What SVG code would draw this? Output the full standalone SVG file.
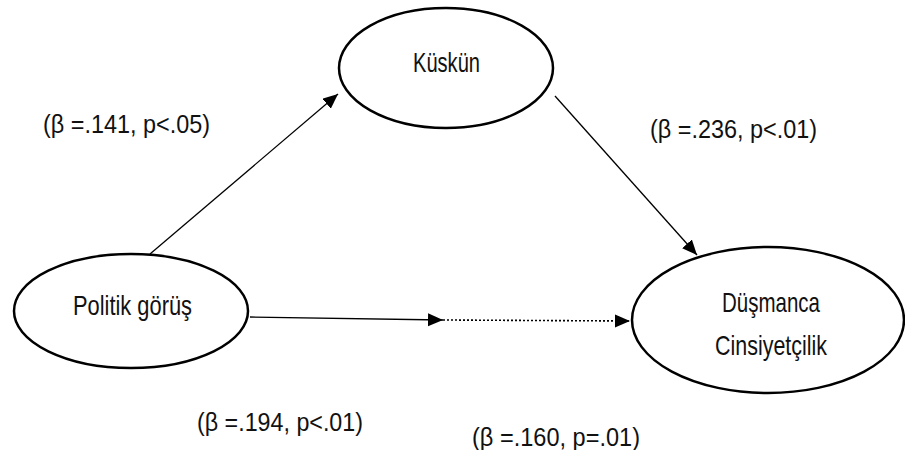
<svg xmlns="http://www.w3.org/2000/svg" width="905" height="450" viewBox="0 0 905 450">
<style>
.node{fill:#fff;stroke:#000;stroke-width:2.5}
.nt{font-family:"Liberation Sans",Arial,sans-serif;font-size:28px;fill:#111}
.lbl{font-family:"Liberation Sans",Arial,sans-serif;font-size:25px;fill:#111}
.c{stroke:#000;stroke-width:1.3;fill:none}
.d{stroke:#000;stroke-width:1.6;fill:none;stroke-dasharray:2 2}
</style>
<defs>
<marker id="ah" markerUnits="userSpaceOnUse" markerWidth="16" markerHeight="14" refX="15" refY="6.5" orient="auto">
<path d="M0,0 L15,6.5 L0,13 z" fill="#000"/>
</marker>
</defs>
<rect width="905" height="450" fill="#fff"/>
<g id="connectors">
<line class="c" x1="150" y1="254" x2="338" y2="94" marker-end="url(#ah)"/>
<line class="c" x1="555" y1="96" x2="697" y2="255" marker-end="url(#ah)"/>
<line class="c" x1="250" y1="317" x2="443" y2="320" marker-end="url(#ah)"/>
<line class="d" x1="443" y1="320" x2="630" y2="321" marker-end="url(#ah)"/>
</g>
<g id="kuskun">
<ellipse class="node" cx="446" cy="68" rx="107" ry="60"/>
<text class="nt" x="413" y="72" textLength="67" lengthAdjust="spacingAndGlyphs">Küskün</text>
</g>
<g id="politik">
<ellipse class="node" cx="131" cy="311" rx="117" ry="57"/>
<text class="nt" x="73" y="315" textLength="119" lengthAdjust="spacingAndGlyphs">Politik görüş</text>
</g>
<g id="dusmanca">
<ellipse class="node" cx="768" cy="320" rx="136" ry="73"/>
<text class="nt" x="722" y="312" textLength="98" lengthAdjust="spacingAndGlyphs">Düşmanca</text>
<text class="nt" x="715" y="355" textLength="112" lengthAdjust="spacingAndGlyphs">Cinsiyetçilik</text>
</g>
<g id="labels">
<text class="lbl" x="43" y="133" textLength="167" lengthAdjust="spacingAndGlyphs">(β =.141, p&lt;.05)</text>
<text class="lbl" x="650" y="138" textLength="167" lengthAdjust="spacingAndGlyphs">(β =.236, p&lt;.01)</text>
<text class="lbl" x="197" y="431" textLength="166" lengthAdjust="spacingAndGlyphs">(β =.194, p&lt;.01)</text>
<text class="lbl" x="472" y="446" textLength="168" lengthAdjust="spacingAndGlyphs">(β =.160, p=.01)</text>
</g>
</svg>
